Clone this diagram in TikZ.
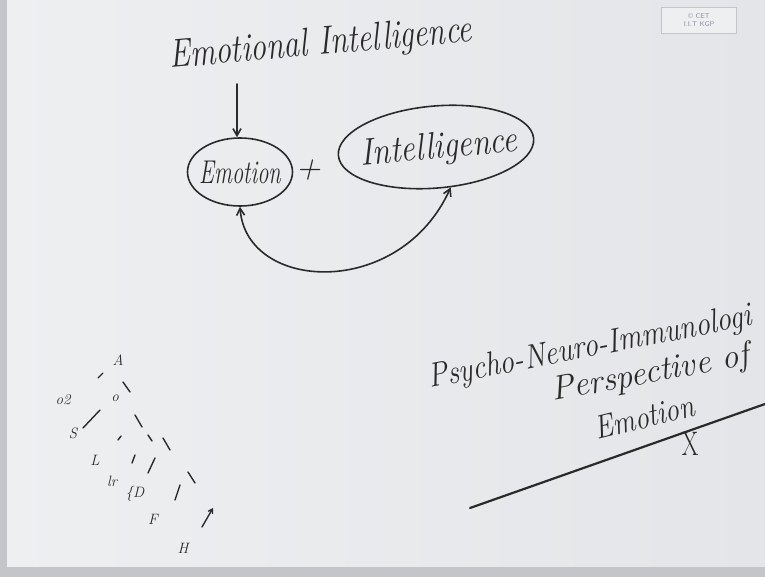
\documentclass[tikz,border=0pt]{standalone}
\usepackage{fontspec}
\usetikzlibrary{arrows.meta,shapes.geometric}
\definecolor{board}{HTML}{EEEFF1}
\definecolor{boardr}{HTML}{E4E5E8}
\definecolor{edge}{HTML}{C4C5C8}
\definecolor{ink}{HTML}{2A2A2A}
\definecolor{logoink}{HTML}{8A93A8}
\begin{document}
\begin{tikzpicture}[x=1pt,y=-1pt,
  >={Straight Barb[length=7pt,width=8pt]},
  pen/.style={draw=ink,line width=1.6pt,line cap=round,line join=round},
  hand/.style={text=ink,inner sep=0pt},
  big/.style={font=\itshape\fontsize{#1}{#1}\selectfont},
  oval/.style={ellipse,draw=ink,line width=1.6pt,inner sep=0pt},
  scrib/.style={text=ink,inner sep=0pt,font=\itshape\fontsize{15}{15}\selectfont},
  stroke/.style={pen,line width=1.4pt}]
\useasboundingbox (0,0) rectangle (765,577);
\shade[left color=board,right color=boardr] (0,0) rectangle (765,577);
\fill[edge] (0,0) rectangle (7,577);
\fill[edge] (0,567) rectangle (765,577);
% logo
\node[draw=edge,fill=board,line width=0.8pt,minimum width=75pt,minimum height=26pt,
  align=center,text=logoink,font=\sffamily\fontsize{7}{7.5}\selectfont,inner sep=1pt] (logo) at (699,20) {© CET\\I.I.T KGP};
% top diagram
\node[hand,big=40,anchor=base west,rotate=5] (ei) at (170,68) {\scalebox{0.79}[1]{Emotional Intelligence}};
\coordinate (atop) at (237,84);
\node[oval,minimum width=105pt,minimum height=68pt] (emo) at (240,172) {};
\node[hand,big=33] (emoT) at (emo.center) {\scalebox{0.68}[1]{Emotion}};
\node[hand,big=34] (plus) at (308,170) {+};
\node[oval,minimum width=196pt,minimum height=82pt,rotate=5] (intel) at (436,147) {};
\node[hand,big=38,rotate=5] (intelT) at ([xshift=3pt,yshift=-2pt]intel.center) {\scalebox{0.85}[1]{Intelligence}};
\draw[pen,->] (atop) -- (emo.north -| atop);
\draw[pen,<->] (emo.south) .. controls (246,292) and (400,300) .. (intel.-75);
% bottom right
\node[hand,big=34,anchor=base west,rotate=11] (pni) at (430,388) {\scalebox{0.86}[1]{Psycho-Neuro-Immunologi}};
\node[hand,big=34,anchor=base west,rotate=10.5] (persp) at (553,401) {Perspective of};
\node[hand,big=33,anchor=base west,rotate=14] (emo2) at (597,440) {\scalebox{0.85}[1]{Emotion}};
\coordinate (l1) at (470,508);
\coordinate (l2) at (765,404);
\draw[pen,line width=2.2pt] (l1) -- (l2);
\node[hand,font=\fontsize{34}{34}\selectfont] (x) at (690,444) {\scalebox{0.7}[1]{X}};
% left scattered marks
\node[scrib] (mA) at (118,360) {A};
\node[scrib] (m02) at (63,400) {o2};
\node[scrib] (m01) at (115,398) {o};
\node[scrib] (mS) at (73,433) {S};
\node[scrib] (mL) at (95,460) {L};
\node[scrib] (mlr) at (112,481) {lr};
\node[scrib] (mD) at (135,494) {\{D};
\node[scrib] (mF) at (153,519) {F};
\node[scrib] (mH) at (183,548) {H};
\coordinate (s1a) at (98,378); \coordinate (s1b) at (103,373);
\coordinate (s2a) at (123,382); \coordinate (s2b) at (130,392);
\coordinate (s3a) at (83,428); \coordinate (s3b) at (100,410);
\coordinate (s4a) at (135,415); \coordinate (s4b) at (142,427);
\coordinate (s5a) at (118,440); \coordinate (s5b) at (121,436);
\coordinate (s6a) at (148,435); \coordinate (s6b) at (152,441);
\coordinate (s7a) at (163,438); \coordinate (s7b) at (170,450);
\coordinate (s8a) at (132,463); \coordinate (s8b) at (135,455);
\coordinate (s9a) at (148,473); \coordinate (s9b) at (155,458);
\coordinate (s10a) at (175,500); \coordinate (s10b) at (180,485);
\coordinate (s11a) at (188,472); \coordinate (s11b) at (195,483);
\coordinate (arA) at (202,527); \coordinate (arB) at (213,508);
\foreach \a/\b in {s1a/s1b,s2a/s2b,s3a/s3b,s4a/s4b,s5a/s5b,s6a/s6b,s7a/s7b,s8a/s8b,s9a/s9b,s10a/s10b,s11a/s11b}
  \draw[stroke] (\a) -- (\b);
\draw[stroke,-{Straight Barb[length=4pt,width=5pt]}] (arA) -- (arB);
\end{tikzpicture}
\end{document}
